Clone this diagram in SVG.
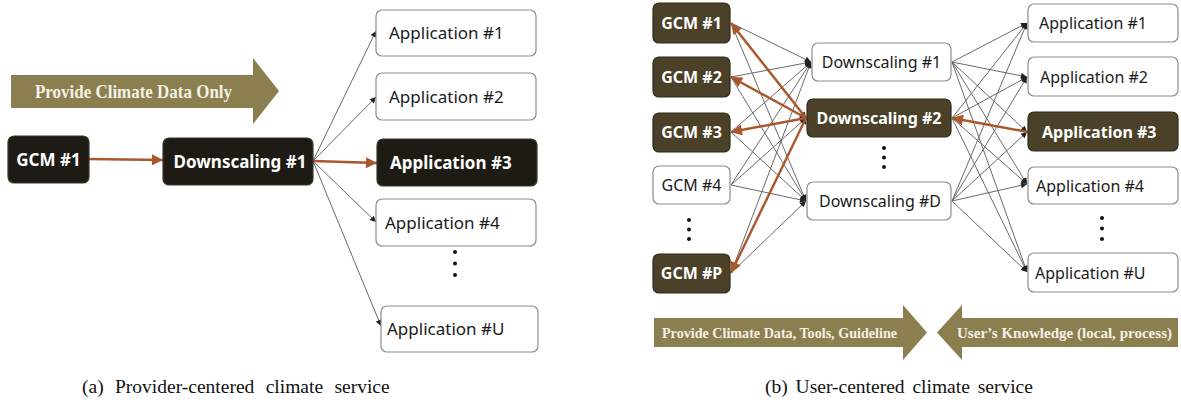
<svg xmlns="http://www.w3.org/2000/svg" width="1181" height="404" viewBox="0 0 1181 404">
  <style>
    .bg { fill: #ffffff; }
    .box { fill: #ffffff; stroke: #8c8c8c; stroke-width: 1.2; }
    .dark { fill: #1e1b14; stroke: #3a372f; stroke-width: 1.2; }
    .olive { fill: #4a4128; stroke: #2e2a1c; stroke-width: 1.2; }
    .lbl { font-family: "Noto Sans", "Open Sans", "DejaVu Sans", sans-serif; fill: #1a1a1a; }
    .lblw { font-family: "Noto Sans", "Open Sans", "DejaVu Sans", sans-serif; fill: #ffffff; font-weight: bold; }
    .thin { stroke: #6a6a6a; stroke-width: 1; fill: none; marker-end: url(#tip); }
    .hot { stroke: #a9572b; stroke-width: 2.4; fill: none; marker-end: url(#hotTip); }
    .band { fill: #8b7f50; }
    .bandTxt { font-family: "Liberation Serif", "Times New Roman", serif; font-weight: bold; fill: #f4f1e6; }
    .caption { font-family: "Liberation Serif", "Times New Roman", serif; font-size: 19.5px; fill: #111111; }
    .dot { fill: #111111; }
  </style>
  <defs>
    <marker id="tip" viewBox="0 0 10 10" refX="10" refY="5" markerWidth="7" markerHeight="6" markerUnits="userSpaceOnUse" orient="auto">
      <path d="M0,0 L10,5 L0,10 z" fill="#222222"/>
    </marker>
    <marker id="hotTip" viewBox="0 0 10 10" refX="10" refY="5" markerWidth="13" markerHeight="11" markerUnits="userSpaceOnUse" orient="auto">
      <path d="M0,0 L10,5 L0,10 z" fill="#a9572b"/>
    </marker>
  </defs>

  <rect class="bg" x="0" y="0" width="1181" height="404"/>

  <!-- ===== Panel (a): provider-centered ===== -->
  <g id="a-band">
    <polygon class="band" points="11,75 253,75 253,58 279,91 253,124 253,108 11,108"/>
    <text class="bandTxt" x="35" y="97.5" font-size="19" textLength="197" lengthAdjust="spacingAndGlyphs">Provide Climate Data Only</text>
  </g>

  <g id="a-connectors">
    <line class="thin" x1="313" y1="161" x2="376" y2="31"/>
    <line class="thin" x1="313" y1="161" x2="376" y2="97"/>
    <line class="thin" x1="313" y1="161" x2="376" y2="222"/>
    <line class="thin" x1="313" y1="161" x2="381" y2="326"/>
    <line class="hot" x1="89" y1="159" x2="163" y2="160"/>
    <line class="hot" x1="313" y1="161" x2="377" y2="163"/>
  </g>

  <g id="a-gcm1">
    <rect class="dark" x="8" y="136" width="81" height="47" rx="6"/>
    <text class="lblw" x="48.5" y="165.5" font-size="17" text-anchor="middle">GCM #1</text>
  </g>
  <g id="a-ds1">
    <rect class="dark" x="163" y="138" width="150" height="47" rx="6"/>
    <text class="lblw" x="240" y="167.5" font-size="17" text-anchor="middle">Downscaling #1</text>
  </g>
  <g id="a-app1">
    <rect class="box" x="376" y="10" width="160" height="46" rx="6"/>
    <text class="lbl" x="389" y="39" font-size="17">Application #1</text>
  </g>
  <g id="a-app2">
    <rect class="box" x="376" y="73" width="160" height="47" rx="6"/>
    <text class="lbl" x="389" y="103" font-size="17">Application #2</text>
  </g>
  <g id="a-app3">
    <rect class="dark" x="377" y="139" width="160" height="47" rx="6"/>
    <text class="lblw" x="390" y="169" font-size="17">Application #3</text>
  </g>
  <g id="a-app4">
    <rect class="box" x="376" y="199" width="160" height="47" rx="6"/>
    <text class="lbl" x="385" y="229" font-size="17">Application #4</text>
  </g>
  <g id="a-more">
    <circle class="dot" cx="455" cy="252" r="2"/>
    <circle class="dot" cx="455" cy="263.5" r="2"/>
    <circle class="dot" cx="455" cy="275" r="2"/>
  </g>
  <g id="a-appU">
    <rect class="box" x="381" y="306" width="157" height="46" rx="6"/>
    <text class="lbl" x="387" y="335" font-size="17">Application #U</text>
  </g>

  <text class="caption" x="82" y="393" word-spacing="6.5">(a) Provider-centered climate service</text>

  <!-- ===== Panel (b): user-centered ===== -->
  <g id="b-connectors">
    <!-- GCMs to downscaling -->
    <line class="thin" x1="731" y1="23" x2="811" y2="62"/>
    <line class="thin" x1="731" y1="23" x2="806" y2="118"/>
    <line class="thin" x1="731" y1="23" x2="806" y2="201"/>
    <line class="thin" x1="731" y1="77" x2="811" y2="62"/>
    <line class="thin" x1="731" y1="77" x2="806" y2="118"/>
    <line class="thin" x1="731" y1="77" x2="806" y2="201"/>
    <line class="thin" x1="731" y1="132" x2="811" y2="62"/>
    <line class="thin" x1="731" y1="132" x2="806" y2="118"/>
    <line class="thin" x1="731" y1="132" x2="806" y2="201"/>
    <line class="thin" x1="731" y1="185" x2="811" y2="62"/>
    <line class="thin" x1="731" y1="185" x2="806" y2="118"/>
    <line class="thin" x1="731" y1="185" x2="806" y2="201"/>
    <line class="thin" x1="731" y1="273" x2="811" y2="62"/>
    <line class="thin" x1="731" y1="273" x2="806" y2="118"/>
    <line class="thin" x1="731" y1="273" x2="806" y2="201"/>
    <!-- downscaling to applications -->
    <line class="thin" x1="952" y1="62" x2="1027" y2="23"/>
    <line class="thin" x1="952" y1="62" x2="1027" y2="77"/>
    <line class="thin" x1="952" y1="62" x2="1027" y2="132"/>
    <line class="thin" x1="952" y1="62" x2="1027" y2="184"/>
    <line class="thin" x1="952" y1="62" x2="1027" y2="272"/>
    <line class="thin" x1="952" y1="118" x2="1027" y2="23"/>
    <line class="thin" x1="952" y1="118" x2="1027" y2="77"/>
    <line class="thin" x1="952" y1="118" x2="1027" y2="184"/>
    <line class="thin" x1="952" y1="118" x2="1027" y2="272"/>
    <line class="thin" x1="952" y1="201" x2="1027" y2="23"/>
    <line class="thin" x1="952" y1="201" x2="1027" y2="77"/>
    <line class="thin" x1="952" y1="201" x2="1027" y2="132"/>
    <line class="thin" x1="952" y1="201" x2="1027" y2="184"/>
    <line class="thin" x1="952" y1="201" x2="1027" y2="272"/>
    <!-- feedback path -->
    <line class="hot" x1="806" y1="118" x2="731" y2="23"/>
    <line class="hot" x1="806" y1="118" x2="731" y2="77"/>
    <line class="hot" x1="806" y1="118" x2="731" y2="132"/>
    <line class="hot" x1="806" y1="118" x2="731" y2="273"/>
    <line class="hot" x1="1028" y1="132" x2="952" y2="118"/>
  </g>

  <g id="b-gcm1">
    <rect class="olive" x="653" y="3" width="77" height="40" rx="6"/>
    <text class="lblw" x="691.5" y="29" font-size="16" text-anchor="middle">GCM #1</text>
  </g>
  <g id="b-gcm2">
    <rect class="olive" x="653" y="57" width="77" height="40" rx="6"/>
    <text class="lblw" x="691.5" y="83" font-size="16" text-anchor="middle">GCM #2</text>
  </g>
  <g id="b-gcm3">
    <rect class="olive" x="653" y="113" width="77" height="39" rx="6"/>
    <text class="lblw" x="691.5" y="138" font-size="16" text-anchor="middle">GCM #3</text>
  </g>
  <g id="b-gcm4">
    <rect class="box" x="653" y="166" width="77" height="38" rx="6"/>
    <text class="lbl" x="691.5" y="191" font-size="16" text-anchor="middle">GCM #4</text>
  </g>
  <g id="b-gcm-more">
    <circle class="dot" cx="689" cy="220" r="2"/>
    <circle class="dot" cx="689" cy="229.5" r="2"/>
    <circle class="dot" cx="689" cy="239" r="2"/>
  </g>
  <g id="b-gcmP">
    <rect class="olive" x="653" y="254" width="77" height="39" rx="6"/>
    <text class="lblw" x="691.5" y="279" font-size="16" text-anchor="middle">GCM #P</text>
  </g>

  <g id="b-ds1">
    <rect class="box" x="812" y="43" width="139" height="38" rx="6"/>
    <text class="lbl" x="881.5" y="68" font-size="16" text-anchor="middle">Downscaling #1</text>
  </g>
  <g id="b-ds2">
    <rect class="olive" x="807" y="99" width="144" height="38" rx="6"/>
    <text class="lblw" x="879" y="124" font-size="16" text-anchor="middle">Downscaling #2</text>
  </g>
  <g id="b-ds-more">
    <circle class="dot" cx="884" cy="148" r="2"/>
    <circle class="dot" cx="884" cy="157.5" r="2"/>
    <circle class="dot" cx="884" cy="167" r="2"/>
  </g>
  <g id="b-dsD">
    <rect class="box" x="807" y="182" width="144" height="38" rx="6"/>
    <text class="lbl" x="880" y="207" font-size="16" text-anchor="middle">Downscaling #D</text>
  </g>

  <g id="b-app1">
    <rect class="box" x="1028" y="4" width="150" height="38" rx="6"/>
    <text class="lbl" x="1039" y="29" font-size="16">Application #1</text>
  </g>
  <g id="b-app2">
    <rect class="box" x="1028" y="57" width="150" height="39" rx="6"/>
    <text class="lbl" x="1040" y="83" font-size="16">Application #2</text>
  </g>
  <g id="b-app3">
    <rect class="olive" x="1028" y="112" width="150" height="39" rx="6"/>
    <text class="lblw" x="1042" y="138" font-size="16">Application #3</text>
  </g>
  <g id="b-app4">
    <rect class="box" x="1028" y="167" width="150" height="37" rx="6"/>
    <text class="lbl" x="1036" y="192" font-size="16">Application #4</text>
  </g>
  <g id="b-app-more">
    <circle class="dot" cx="1102" cy="218" r="2"/>
    <circle class="dot" cx="1102" cy="228.5" r="2"/>
    <circle class="dot" cx="1102" cy="239" r="2"/>
  </g>
  <g id="b-appU">
    <rect class="box" x="1028" y="253" width="150" height="39" rx="6"/>
    <text class="lbl" x="1035" y="279" font-size="16">Application #U</text>
  </g>

  <g id="b-band-left">
    <polygon class="band" points="654,318 903,318 903,305 927,332.5 903,360 903,347 654,347"/>
    <text class="bandTxt" x="662" y="338" font-size="15" textLength="235" lengthAdjust="spacingAndGlyphs">Provide Climate Data, Tools, Guideline</text>
  </g>
  <g id="b-band-right">
    <polygon class="band" points="1178,318 962,318 962,305 937,332.5 962,360 962,347 1178,347"/>
    <text class="bandTxt" x="957" y="338" font-size="15" textLength="215" lengthAdjust="spacingAndGlyphs">User’s Knowledge (local, process)</text>
  </g>

  <text class="caption" x="765" y="393" word-spacing="3">(b) User-centered climate service</text>
</svg>
